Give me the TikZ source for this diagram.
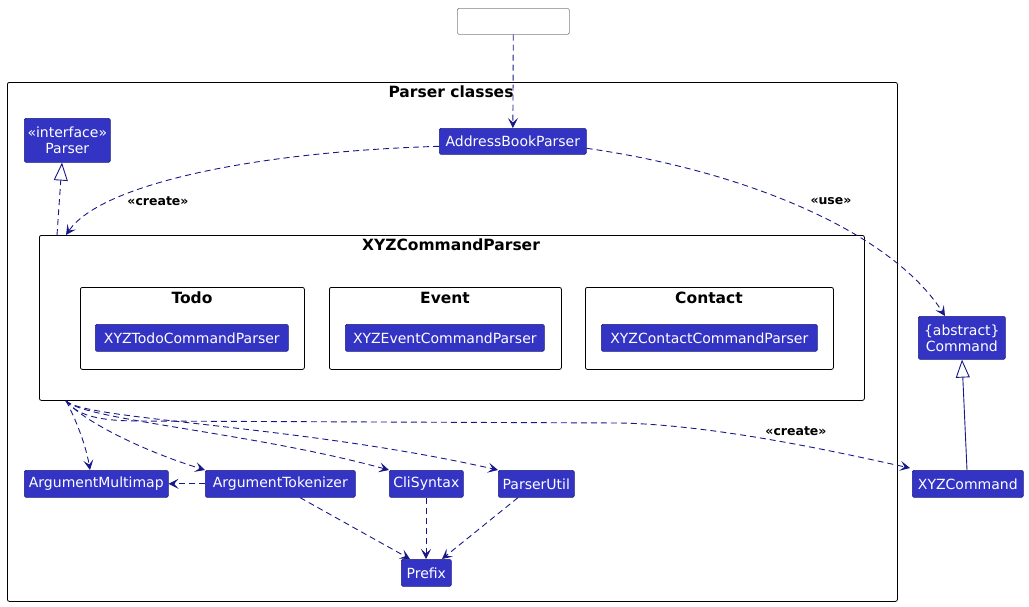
\documentclass[tikz,border=0pt]{standalone}
\usepackage{fontspec}
\setmainfont{DejaVu Sans}
\usetikzlibrary{arrows.meta}
\definecolor{clsfill}{RGB}{51,51,196}
\definecolor{clsborder}{RGB}{30,30,130}
\definecolor{edgec}{RGB}{24,24,136}
\begin{document}
\begin{tikzpicture}[x=1pt,y=-1pt,
  cls/.style={draw=clsborder, fill=clsfill, text=white, rounded corners=1.5pt, inner sep=0pt, font=\fontsize{14}{16}\selectfont, anchor=north west, align=center, line width=0.6pt},
  blank/.style={draw=gray, fill=white, rounded corners=1.5pt, inner sep=0pt, anchor=north west, line width=0.7pt},
  pkg/.style={draw=black, rounded corners=2pt, anchor=north west, inner sep=0pt, line width=0.8pt},
  ttl/.style={font=\fontsize{15.5}{18}\selectfont\bfseries, inner sep=0pt},
  lbl/.style={font=\fontsize{12.5}{14}\selectfont\bfseries, inner sep=0pt},
  dep/.style={draw=edgec, dash pattern=on 6pt off 4pt, line width=0.9pt, -{Stealth[length=10pt,width=10pt,inset=4.5pt]}},
  realz/.style={draw=edgec, dash pattern=on 6pt off 4pt, line width=0.9pt, -{Triangle[open,length=18pt,width=14pt,fill=white]}},
  genz/.style={draw=edgec, line width=0.9pt, -{Triangle[open,length=18pt,width=14pt,fill=white]}},
]
\useasboundingbox (0,0) rectangle (1029,606);

\node[blank, minimum width=112pt, minimum height=26pt] (top) at (457,8) {};
\node[pkg, minimum width=890pt, minimum height=519pt] (outer) at (7,82) {};
\node[ttl] (outerT) at (451,92) {Parser classes};

\node[cls, minimum width=86pt, minimum height=44pt] (iparser) at (24,118) {«interface»\\Parser};
\node[cls, minimum width=147pt, minimum height=26pt] (abp) at (439,128) {AddressBookParser};

\node[pkg, minimum width=825pt, minimum height=165pt] (xyz) at (39,235) {};
\node[ttl] (xyzT) at (451,245) {XYZCommandParser};

\node[pkg, minimum width=224pt, minimum height=82pt] (todo) at (80,287) {};
\node[ttl] (todoT) at (192,298) {Todo};
\node[cls, minimum width=193pt, minimum height=27pt] (todoP) at (95,324) {XYZTodoCommandParser};

\node[pkg, minimum width=232pt, minimum height=82pt] (event) at (329,287) {};
\node[ttl] (eventT) at (445,298) {Event};
\node[cls, minimum width=199pt, minimum height=27pt] (eventP) at (345,324) {XYZEventCommandParser};

\node[pkg, minimum width=248pt, minimum height=82pt] (contact) at (585,287) {};
\node[ttl] (contactT) at (709,298) {Contact};
\node[cls, minimum width=216pt, minimum height=27pt] (contactP) at (601,324) {XYZContactCommandParser};

\node[cls, minimum width=87pt, minimum height=43pt] (command) at (918,316) {\{abstract\}\\Command};
\node[cls, minimum width=111pt, minimum height=27pt] (xyzcmd) at (912,470) {XYZCommand};

\node[cls, minimum width=144pt, minimum height=27pt] (amap) at (24,470) {ArgumentMultimap};
\node[cls, minimum width=150pt, minimum height=27pt] (atok) at (205,470) {ArgumentTokenizer};
\node[cls, minimum width=74pt, minimum height=27pt] (cli) at (389,470) {CliSyntax};
\node[cls, minimum width=76pt, minimum height=27pt] (putil) at (498,470) {ParserUtil};
\node[cls, minimum width=50pt, minimum height=27pt] (prefix) at (401,559) {Prefix};

% edges
\draw[dep] (top) -- (abp);
\draw[dep] ([yshift=-5pt]abp.west) .. controls (250,152) and (100,185) .. ([xshift=27pt]xyz.north west);
\node[lbl] (lcreate1) at (158,201) {«create»};
\draw[realz] ([xshift=18pt]xyz.north west) -- ([xshift=38pt]iparser.south west);
\draw[dep] ([yshift=-7pt]abp.east) .. controls (740,170) and (890,230) .. ([xshift=27pt]command.north west);
\node[lbl] (luse) at (831,201) {«use»};

\draw[dep] ([xshift=27pt]xyz.south west) .. controls (72,412) and (85,440) .. ([xshift=66pt]amap.north west);
\draw[dep] ([xshift=27pt]xyz.south west) .. controls (82,420) and (140,450) .. (atok.north west);
\draw[dep] ([xshift=27pt]xyz.south west) .. controls (84,420) and (250,432) .. (cli.north west);
\draw[dep] ([xshift=27pt]xyz.south west) .. controls (84,420) and (300,425) .. (putil.north west);
\draw[dep] ([xshift=27pt]xyz.south west) .. controls (78,416) and (100,421) .. (140,421) -- (620,423) .. controls (720,425) and (850,455) .. ([xshift=-2pt,yshift=2pt]xyzcmd.north west);
\node[lbl] (lcreate2) at (796,431) {«create»};

\draw[dep] (atok.west) -- (amap.east);
\draw[dep] ([xshift=95pt]atok.south west) -- ([xshift=9pt]prefix.north west);
\draw[dep] ([xshift=37pt]cli.south west) -- ([xshift=25pt]prefix.north west);
\draw[dep] ([xshift=20pt]putil.south west) -- ([xshift=41pt]prefix.north west);

\draw[genz] ([xshift=55pt]xyzcmd.north west) -- ([xshift=44pt]command.south west);
\end{tikzpicture}
\end{document}
